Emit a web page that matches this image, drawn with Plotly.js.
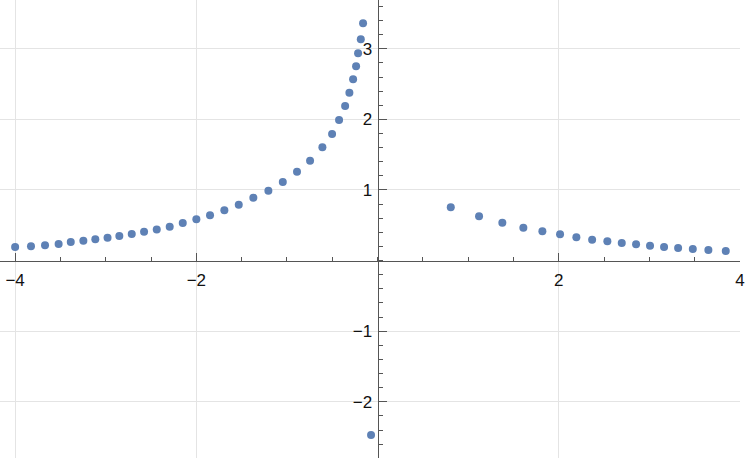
<!DOCTYPE html>
<html>
<head>
<meta charset="utf-8">
<script src="https://cdn.plot.ly/plotly-3.0.1.min.js"></script>
<style>
  html, body { margin: 0; padding: 0; background: #fff; }
  #chart { width: 747px; height: 460px; }
</style>
</head>
<body>
<div id="chart"></div>
<script>
const xVals = [
  -4.000, -3.825, -3.670, -3.520, -3.386, -3.247, -3.115, -2.980, -2.850,
  -2.713, -2.577, -2.437, -2.294, -2.150, -2.000, -1.849, -1.691, -1.532,
  -1.371, -1.205, -1.046, -0.889, -0.745, -0.609, -0.502, -0.425, -0.358,
  -0.311, -0.270, -0.237, -0.215, -0.185, -0.160,
  -0.072,
  0.808, 1.120, 1.377, 1.609, 1.819, 2.014, 2.194, 2.368, 2.536,
  2.695, 2.853, 3.007, 3.162, 3.317, 3.479, 3.651, 3.843
];
const yVals = [
  0.193, 0.203, 0.217, 0.235, 0.263, 0.282, 0.302, 0.324, 0.348,
  0.377, 0.409, 0.442, 0.479, 0.533, 0.585, 0.642, 0.713, 0.792,
  0.891, 0.990, 1.113, 1.259, 1.415, 1.605, 1.793, 1.991, 2.190,
  2.378, 2.568, 2.752, 2.936, 3.135, 3.361,
  -2.470,
  0.755, 0.627, 0.537, 0.466, 0.415, 0.373, 0.330, 0.296, 0.274,
  0.249, 0.231, 0.211, 0.193, 0.178, 0.164, 0.150, 0.136
];

const xTicks = [-4, -2, 2, 4];
const xTickText = ['\u22124', '\u22122', '2', '4'];
const yTicks = [-2, -1, 1, 2, 3];
const yTickText = ['\u22122', '\u22121', '1', '2', '3'];

const xRange = [-4.167, 4.0];
const yRange = [-2.796, 3.691];

const axisColor = '#555';
const gridColor = '#e4e4e4';

const trace = {
  x: xVals,
  y: yVals,
  type: 'scatter',
  mode: 'markers',
  marker: { color: '#5E81B5', size: 8 },
  hoverinfo: 'x+y',
};

const layout = {
  width: 747,
  height: 460,
  margin: { t: 0, r: 7, b: 2, l: 0 },
  paper_bgcolor: '#fff',
  plot_bgcolor: '#fff',
  font: { family: 'Liberation Sans, Arial, sans-serif', size: 17, color: '#111' },
  showlegend: false,
  xaxis: {
    range: xRange,
    anchor: 'free',
    position: (0 - yRange[0]) / (yRange[1] - yRange[0]),
    tickmode: 'array',
    tickvals: xTicks,
    ticktext: xTickText,
    ticks: 'inside',
    ticklen: 8,
    tickwidth: 1,
    tickcolor: axisColor,
    ticklabelstandoff: 4,
    showline: true,
    linecolor: axisColor,
    linewidth: 1,
    zeroline: false,
    showgrid: true,
    gridcolor: gridColor,
    automargin: false,
    minor: { tickmode: 'linear', tick0: 0, dtick: 0.5, ticks: 'inside', ticklen: 4, tickcolor: axisColor, showgrid: false },
  },
  yaxis: {
    range: yRange,
    anchor: 'free',
    position: (0 - xRange[0]) / (xRange[1] - xRange[0]),
    tickmode: 'array',
    tickvals: yTicks,
    ticktext: yTickText,
    ticks: 'inside',
    ticklen: 8,
    tickwidth: 1,
    tickcolor: axisColor,
    ticklabelstandoff: 2,
    showline: true,
    linecolor: axisColor,
    linewidth: 1,
    zeroline: false,
    showgrid: true,
    gridcolor: gridColor,
    automargin: false,
    minor: { tickmode: 'linear', tick0: 0, dtick: 0.2, ticks: 'inside', ticklen: 4, tickcolor: axisColor, showgrid: false },
  },
};

Plotly.newPlot('chart', [trace], layout, { displayModeBar: false, staticPlot: true });
</script>
</body>
</html>
